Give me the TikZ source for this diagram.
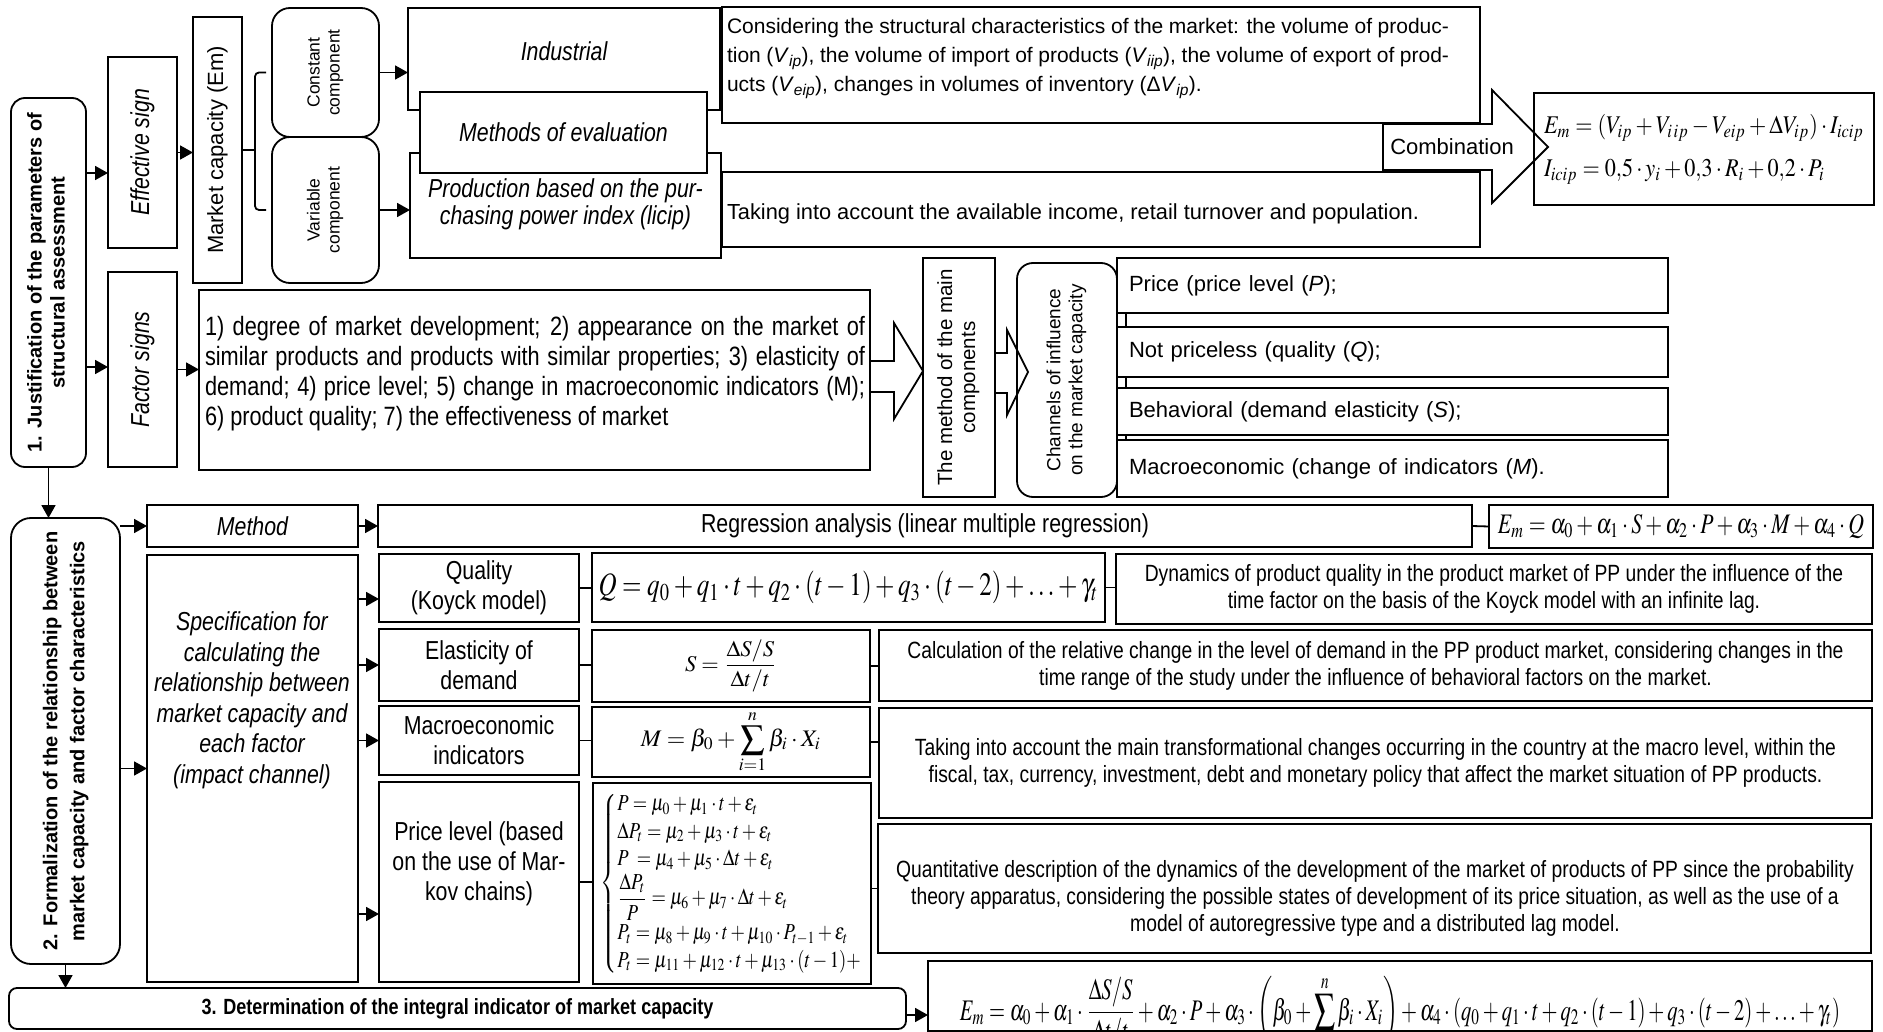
\documentclass[tikz,border=0pt]{standalone}
\usepackage{mathptmx}
\usepackage[no-math]{fontspec}
\setmainfont{Liberation Sans}
\newfontfamily\nar{Liberation Sans}[FakeStretch=0.82]
\usepackage{graphicx}
\usetikzlibrary{arrows.meta}
\newcommand\fs[2]{\fontsize{#1}{#2}\selectfont}
\newcommand\vtab[1]{\begin{tabular}{@{}c@{}}#1\end{tabular}}
\newcommand\Vs[1]{\textit{V}\textsubscript{\textit{#1}}}
\begin{document}
\begin{tikzpicture}[x=1pt,y=-1pt,
  bx/.style={draw, line width=1.8pt, inner sep=0pt, outer sep=0pt},
  R/.style n args={4}{bx, at={(#1,#2)}, anchor=north west, minimum width={(#3-#1)*1pt}, minimum height={(#4-#2)*1pt}},
  ln/.style={line width=1.8pt},
  arr/.style={line width=1.8pt, -{Triangle[length=13pt,width=14pt]}},
  txt/.style={inner sep=0pt, outer sep=0pt},
  lab/.style={font={\nar\fs{26}{30}}, align=center},
  desc/.style={font={\nar\fs{23.5}{27}}, align=center}]
\fill[white] (0,0) rectangle (1883,1032);
\useasboundingbox (0,0) rectangle (1883,1032);
\coordinate (ya) at (0,173);
\coordinate (yb) at (0,367);
\coordinate (yq) at (0,599);
\coordinate (yp) at (0,914);
\coordinate (yf) at (0,1015);

% ---------- Section 1 ----------
\node[R={11}{98}{86}{467}, rounded corners=14pt] (b1) {\rotatebox{90}{\fs{20}{23}\bfseries\vtab{1. Justification of the parameters of\\structural assessment}}};
\node[R={108}{57}{177}{248}] (eff) {\rotatebox{90}{\nar\itshape\fs{26}{30}Effective sign}};
\node[R={108}{272}{177}{467}] (fs) {\rotatebox{90}{\nar\itshape\fs{26}{30}Factor signs}};
\node[R={193}{17}{242}{283}] (mc) {\rotatebox{90}{\fs{22}{25}Market capacity (Em)}};
\node[R={272}{8}{379}{137}, rounded corners=18pt] (cc) {\rotatebox{90}{\fs{17.5}{20}\vtab{Constant\\component}}};
\node[R={272}{137}{379}{283}, rounded corners=18pt] (vc) {\rotatebox{90}{\fs{17.5}{20}\vtab{Variable\\component}}};
\node[R={408}{8}{720}{110}] (ind) {\raisebox{15pt}{\nar\itshape\fs{26}{30}Industrial}};
\node[R={410}{153}{721}{258}] (prod) {\raisebox{-16pt}{\nar\itshape\fs{26}{27}\vtab{Production based on the pur-\\chasing power index (licip)}}};
\node[R={420}{92}{707}{173}, fill=white] (meth) {\nar\itshape\fs{26}{30}Methods of evaluation};
\node[R={722}{7}{1480}{123}] (cons) {};
\node[R={722}{172}{1480}{247}] (take) {};
\node[txt, anchor=north west] (const) at (727,18) {\parbox{722pt}{\fs{21}{29}\hyphenpenalty=10000 Considering the structural characteristics of the market: the volume of produc-\linebreak tion (\Vs{ip}), the volume of import of products (\Vs{iip}), the volume of export of prod-\linebreak ucts (\Vs{eip}), changes in volumes of inventory (Δ\Vs{ip}).}};
\node[txt, anchor=west] (taket) at (727,214) {\fs{21.8}{25}Taking into account the available income, retail turnover and population.};
\node[R={1534}{93}{1874}{205}] (f1) {\scalebox{1}[1.15]{\resizebox{320pt}{!}{$\begin{array}{@{}l@{}}E_m=\left(V_{ip}+V_{i\,ip}-V_{eip}+\Delta V_{ip}\right)\cdot I_{icip}\\[5pt] I_{icip}=0{,}5\cdot y_i+0{,}3\cdot R_i+0{,}2\cdot P_i\end{array}$}}};
\draw[ln] (1383,124) -- (1492,124) -- (1492,90) -- (1548,147) -- (1492,203) -- (1492,170) -- (1383,170) -- cycle;
\node[txt] (comb) at (1452,147) {\fs{22}{25}Combination};

% factor row
\node[R={199}{290}{870}{470}] (fl) {};
\node[txt, anchor=west] (flt) at (205,374) {\parbox{660pt}{\nar\fs{26.5}{30}\hyphenpenalty=10000 1) degree of market development; 2) appearance on the market of\linebreak similar products and products with similar properties; 3) elasticity of\linebreak demand; 4) price level; 5) change in macroeconomic indicators (M);\linebreak 6) product quality; 7) the effectiveness of market}};
\draw[ln] (870,361) -- (894,361) -- (894,323) -- (923,371) -- (894,419) -- (894,392) -- (870,392);
\node[R={923}{258}{995}{497}] (pca) {\rotatebox{90}{\fs{20.5}{23}\vtab{The method of the main\\components}}};
\draw[ln] (995,353) -- (1007,353) -- (1007,330) -- (1028,372) -- (1007,415) -- (1007,393) -- (995,393);
\node[R={1017}{263}{1117}{497}, rounded corners=16pt] (chan) {\rotatebox{90}{\fs{19}{22}\vtab{Channels of influence\\on the market capacity}}};
\draw[ln] (1126,313) -- (1126,440);
\node[R={1117}{258}{1668}{313}, fill=white, align=left, text width=527pt, inner xsep=12pt, font=\fs{22}{25}] (c1) {Price (price level (\textit{P});};
\node[R={1117}{327}{1668}{377}, fill=white, align=left, text width=527pt, inner xsep=12pt, font=\fs{22}{25}] (c2) {Not priceless (quality (\textit{Q});};
\node[R={1117}{388}{1668}{435}, fill=white, align=left, text width=527pt, inner xsep=12pt, font=\fs{22}{25}] (c3) {Behavioral (demand elasticity (\textit{S});};
\node[R={1117}{440}{1668}{497}, fill=white, align=left, text width=527pt, inner xsep=12pt, font=\fs{22}{25}] (c4) {Macroeconomic (change of indicators (\textit{M}).};

% ---------- Section 2 ----------
\node[R={11}{518}{120}{964}, rounded corners=20pt] (b2) {\rotatebox{90}{\fs{20}{27}\bfseries\vtab{2. Formalization of the relationship between\\market capacity and factor characteristics}}};
\node[R={147}{505}{358}{547}] (m2) {\nar\itshape\fs{26}{30}Method};
\node[R={378}{505}{1472}{547}, lab] (reg) {Regression analysis (linear multiple regression)};
\node[R={1489}{505}{1873}{548}] (regf) {\scalebox{1}[1.3]{\resizebox{366pt}{!}{$E_m=\alpha_0+\alpha_1\cdot S+\alpha_2\cdot P+\alpha_3\cdot M+\alpha_4\cdot Q$}}};
\node[R={147}{555}{358}{982}] (spec) {};
\node[txt, anchor=north, font={\nar\itshape\fs{26}{30.5}}, align=center] (spect) at (252,612) {Specification for\\calculating the\\relationship between\\market capacity and\\each factor\\(impact channel)};

\node[R={379}{554}{579}{622}, lab] (qb) {Quality\\(Koyck model)};
\node[R={379}{629}{579}{701}, lab] (eb) {Elasticity of\\demand};
\node[R={379}{706}{579}{775}, lab] (mb) {Macroeconomic\\indicators};
\node[R={379}{782}{579}{982}] (pb) {};
\node[txt, anchor=north, lab] (pbt) at (479,822) {Price level (based\\on the use of Mar-\\kov chains)};

\node[R={592}{553}{1105}{622}] (qf) {\scalebox{1}[1.3]{\resizebox{500pt}{!}{$Q=q_0+q_1\cdot t+q_2\cdot(t-1)+q_3\cdot(t-2)+\ldots+\gamma_t$}}};
\node[R={592}{630}{870}{702}] (sf) {\resizebox{92pt}{!}{$\displaystyle S=\frac{\Delta S/S}{\Delta t/t}$}};
\node[R={592}{707}{870}{777}] (mf) {\resizebox{180pt}{!}{$\displaystyle M=\beta_0+\sum_{i=1}^{n}\beta_i\cdot X_i$}};
\node[R={593}{783}{871}{984}] (pf) {\resizebox*{262pt}{184pt}{$\left\{\begin{array}{@{}l@{}}P=\mu_0+\mu_1\cdot t+\varepsilon_t\\ \Delta P_t=\mu_2+\mu_3\cdot t+\varepsilon_t\\ P\;=\mu_4+\mu_5\cdot\Delta t+\varepsilon_t\\ \displaystyle\frac{\Delta P_t}{P}=\mu_6+\mu_7\cdot\Delta t+\varepsilon_t\\ P_t=\mu_8+\mu_9\cdot t+\mu_{10}\cdot P_{t-1}+\varepsilon_t\\ P_t=\mu_{11}+\mu_{12}\cdot t+\mu_{13}\cdot(t-1)+\end{array}\right.$}};

\node[R={1116}{554}{1872}{624}, desc] (qd) {Dynamics of product quality in the product market of PP under the influence of the\\time factor on the basis of the Koyck model with an infinite lag.};
\node[R={879}{630}{1872}{701}, desc] (sd) {Calculation of the relative change in the level of demand in the PP product market, considering changes in the\\time range of the study under the influence of behavioral factors on the market.};
\node[R={879}{708}{1872}{818}, desc] (md) {Taking into account the main transformational changes occurring in the country at the macro level, within the\\fiscal, tax, currency, investment, debt and monetary policy that affect the market situation of PP products.};
\node[R={878}{824}{1871}{953}] (pd) {};
\node[txt, desc] (pdt) at (1375,898) {Quantitative description of the dynamics of the development of the market of products of PP since the probability\\theory apparatus, considering the possible states of development of its price situation, as well as the use of a\\model of autoregressive type and a distributed lag model.};

% ---------- Section 3 ----------
\node[R={9}{988}{906}{1029}, rounded corners=8pt] (bar) {\nar\bfseries\fs{22}{25}3. Determination of the integral indicator of market capacity};
\node[R={928}{961}{1872}{1031}] (finf) {\smash{\raisebox{-24pt}{\scalebox{1}[1.45]{\resizebox{880pt}{!}{$\displaystyle E_m=\alpha_0+\alpha_1\cdot\frac{\Delta S/S}{\Delta t/t}+\alpha_2\cdot P+\alpha_3\cdot\left(\beta_0+\sum^{n}\beta_i\cdot X_i\right)+\alpha_4\cdot\left(q_0+q_1\cdot t+q_2\cdot(t-1)+q_3\cdot(t-2)+\ldots+\gamma_t\right)$}}}}};

% ---------- connectors ----------
\draw[arr] (b1.east|-ya) -- (eff.west|-ya);
\draw[arr] (b1.east|-yb) -- (fs.west|-yb);
\draw[arr] (eff.east) -- (mc.west|-eff.east);
\draw[ln] (mc.east) -- ++(13,0);
\draw[ln, rounded corners=4pt] ([xshift=-6pt]cc.west) -- ++(-11,0) |- ([xshift=-6pt]vc.west);
\draw[arr] (cc.east) -- (ind.west|-cc.east);
\draw[arr] (vc.east) -- (prod.west|-vc.east);
\draw[arr] (fs.east) -- (fl.west|-fs.east);
\draw[arr] (b1.south) -- (b1.south|-b2.north);
\draw[arr] (b2.east|-m2.west) -- (m2.west);
\draw[arr] (m2.east) -- (reg.west);
\draw[ln] (reg.east) -- (regf.west);
\draw[arr] (b2.east|-spec.west) -- (spec.west);
\draw[arr] (spec.east|-yq) -- (qb.west|-yq);
\draw[arr] (spec.east|-eb.west) -- (eb.west);
\draw[arr] (spec.east|-mb.west) -- (mb.west);
\draw[arr] (spec.east|-yp) -- (pb.west|-yp);
\draw[ln] (qb.east) -- (qf.west|-qb.east);
\draw[ln] (eb.east) -- (sf.west|-eb.east);
\draw[ln] (mb.east) -- (mf.west|-mb.east);
\draw[ln] (pb.east) -- (pf.west|-pb.east);
\draw[ln] (qf.east) -- (qd.west|-qf.east);
\draw[ln] (sf.east) -- (sd.west|-sf.east);
\draw[ln] (mf.east) -- (md.west|-mf.east);
\draw[ln] (pf.east|-pd.west) -- (pd.west);
\draw[arr] (b2.south) -- (b2.south|-bar.north);
\draw[arr] (bar.east|-yf) -- (finf.west|-yf);
\end{tikzpicture}
\end{document}
